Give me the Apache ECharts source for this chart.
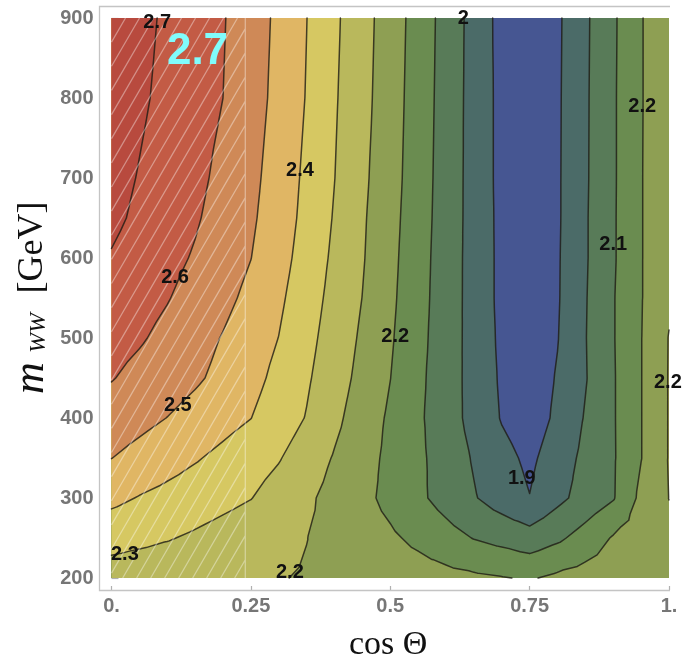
<!DOCTYPE html>
<html>
<head>
<meta charset="utf-8">
<script src="https://cdn.jsdelivr.net/npm/echarts@6/dist/echarts.min.js"></script>
<style>
  html, body { margin: 0; padding: 0; background: #ffffff; }
  #chart { width: 682px; height: 666px; }
</style>
</head>
<body>
<div id="chart"></div>
<script>
// Sampled grid: cos(Theta) columns, m_WW rows (GeV)
const cosTheta = [0, 0.05, 0.1, 0.15, 0.2, 0.25, 0.3, 0.35, 0.4, 0.45, 0.5,
                  0.55, 0.6, 0.65, 0.7, 0.75, 0.8, 0.85, 0.9, 0.95, 1.0];
const mWW = [200, 250, 300, 350, 400, 450, 500, 550, 600, 650, 700, 800, 900];

// Ratio values on the grid, one row per m_WW value (same order as mWW)
const ratio200 = [2.287, 2.280, 2.275, 2.268, 2.262, 2.256, 2.249, 2.241, 2.230, 2.220, 2.210, 2.199, 2.189, 2.178, 2.168, 2.157, 2.180, 2.197, 2.209, 2.217, 2.221];
const ratio250 = [2.359, 2.346, 2.333, 2.317, 2.299, 2.282, 2.264, 2.247, 2.223, 2.200, 2.176, 2.147, 2.112, 2.079, 2.057, 2.034, 2.067, 2.115, 2.171, 2.205, 2.226];
const ratio300 = [2.429, 2.406, 2.387, 2.368, 2.349, 2.330, 2.296, 2.259, 2.221, 2.184, 2.143, 2.098, 2.052, 2.006, 1.962, 1.920, 1.980, 2.030, 2.076, 2.183, 2.247];
const ratio350 = [2.493, 2.467, 2.442, 2.417, 2.390, 2.361, 2.333, 2.288, 2.240, 2.194, 2.146, 2.098, 2.046, 1.993, 1.942, 1.902, 1.958, 2.020, 2.074, 2.162, 2.250];
const ratio400 = [2.537, 2.515, 2.491, 2.465, 2.438, 2.411, 2.369, 2.324, 2.264, 2.207, 2.152, 2.095, 2.036, 1.975, 1.913, 1.877, 1.933, 2.006, 2.075, 2.162, 2.250];
const ratio450 = [2.578, 2.552, 2.528, 2.503, 2.472, 2.434, 2.390, 2.338, 2.281, 2.223, 2.165, 2.100, 2.037, 1.973, 1.907, 1.873, 1.924, 1.995, 2.075, 2.162, 2.250];
const ratio500 = [2.602, 2.582, 2.554, 2.521, 2.488, 2.449, 2.409, 2.351, 2.293, 2.234, 2.173, 2.106, 2.039, 1.972, 1.902, 1.869, 1.915, 1.997, 2.077, 2.162, 2.249];
const ratio550 = [2.626, 2.603, 2.578, 2.546, 2.512, 2.473, 2.424, 2.365, 2.303, 2.245, 2.180, 2.111, 2.041, 1.971, 1.898, 1.869, 1.911, 1.995, 2.077, 2.160, 2.234];
const ratio600 = [2.651, 2.624, 2.596, 2.567, 2.530, 2.493, 2.439, 2.378, 2.313, 2.252, 2.185, 2.115, 2.042, 1.971, 1.898, 1.869, 1.910, 1.992, 2.073, 2.160, 2.230];
const ratio650 = [2.672, 2.642, 2.612, 2.582, 2.545, 2.504, 2.450, 2.388, 2.322, 2.256, 2.190, 2.119, 2.045, 1.971, 1.897, 1.869, 1.908, 1.992, 2.073, 2.160, 2.230];
const ratio700 = [2.682, 2.652, 2.622, 2.592, 2.556, 2.512, 2.457, 2.394, 2.329, 2.262, 2.195, 2.123, 2.046, 1.971, 1.895, 1.869, 1.908, 1.990, 2.072, 2.160, 2.230];
const ratio800 = [2.699, 2.668, 2.637, 2.605, 2.574, 2.525, 2.470, 2.406, 2.336, 2.271, 2.201, 2.127, 2.049, 1.971, 1.895, 1.869, 1.907, 1.989, 2.072, 2.159, 2.230];
const ratio900 = [2.710, 2.677, 2.644, 2.611, 2.579, 2.530, 2.476, 2.411, 2.342, 2.276, 2.206, 2.131, 2.052, 1.972, 1.892, 1.869, 1.905, 1.987, 2.070, 2.159, 2.230];
const ratioRows = [ratio200, ratio250, ratio300, ratio350, ratio400, ratio450,
                   ratio500, ratio550, ratio600, ratio650, ratio700, ratio800, ratio900];

// Contour levels and the fill colour of each band (lowest band first)
const contourLevels = [1.918, 2.0, 2.082, 2.164, 2.246, 2.328, 2.41, 2.492, 2.574, 2.656];
const bandColors = ['#465692', '#4b6b68', '#587b58', '#6a8c50', '#8e9f53', '#b9b85c',
                    '#d6c862', '#e0b664', '#cf8957', '#c35b45', '#b84a3e'];

// Contour labels: position (cos Theta, m_WW) and the level they annotate
const labelCos   = [0.082, 0.114, 0.119, 0.338, 0.024, 0.320, 0.509, 0.631, 0.736, 0.952, 0.900, 0.998];
const labelMass  = [895,   576,   416,   710,   229,   207.5, 502.5, 899,   325,   789,   617.5, 445];
const labelLevel = [9,     8,     7,     6,     5,     4,     3,     1,     0,     3,     2,     4];

// Axis ticks
const xTicks = [0, 0.25, 0.5, 0.75, 1];
const xTickText = ['0.', '0.25', '0.5', '0.75', '1.'];
const yTicks = [200, 300, 400, 500, 600, 700, 800, 900];

// Hatched cos Theta range
const hatchCos = [0, 0.24];
const highlightValue = '2.7';

// ---- triangulate the grid (4 triangles per cell around the centre) ----
function buildTriangles() {
  const tris = [];
  for (let j = 0; j < mWW.length - 1; j++) {
    for (let i = 0; i < cosTheta.length - 1; i++) {
      const a = { x: cosTheta[i],     y: mWW[j],     z: ratioRows[j][i] };
      const b = { x: cosTheta[i + 1], y: mWW[j],     z: ratioRows[j][i + 1] };
      const c = { x: cosTheta[i + 1], y: mWW[j + 1], z: ratioRows[j + 1][i + 1] };
      const d = { x: cosTheta[i],     y: mWW[j + 1], z: ratioRows[j + 1][i] };
      const o = { x: (a.x + b.x) / 2, y: (a.y + d.y) / 2, z: (a.z + b.z + c.z + d.z) / 4 };
      tris.push([a, b, o], [b, c, o], [c, d, o], [d, a, o]);
    }
  }
  return tris;
}
const triangles = buildTriangles();

function lerpPt(p, q, L) {
  const t = (L - p.z) / (q.z - p.z);
  return { x: p.x + t * (q.x - p.x), y: p.y + t * (q.y - p.y), z: L };
}
// part of a triangle where value >= L
function clipAbove(tri, L) {
  const out = [];
  for (let k = 0; k < tri.length; k++) {
    const p = tri[k], q = tri[(k + 1) % tri.length];
    const pin = p.z >= L, qin = q.z >= L;
    if (pin) out.push(p);
    if (pin !== qin) out.push(lerpPt(p, q, L));
  }
  return out;
}
// iso-line segment of a triangle at level L
function isoSegment(tri, L) {
  const pts = [];
  for (let k = 0; k < 3; k++) {
    const p = tri[k], q = tri[(k + 1) % 3];
    if ((p.z >= L) !== (q.z >= L)) pts.push(lerpPt(p, q, L));
  }
  return pts.length === 2 ? pts : null;
}
function fmtLevel(v) { return String(Math.round(v * 10) / 10); }
function px(api, p) { const c = api.coord([p.x, p.y]); return c[0].toFixed(2) + ',' + c[1].toFixed(2); }

const chart = echarts.init(document.getElementById('chart'), null, { renderer: 'canvas' });

const axisFont = 'Liberation Sans, Arial, Helvetica, sans-serif';
const serifFont = 'Liberation Serif, Times New Roman, serif';

const option = {
  animation: false,
  backgroundColor: '#ffffff',
  grid: { left: 111.5, top: 18, width: 557.5, height: 560, containLabel: false },
  xAxis: {
    type: 'value', min: 0, max: 1, interval: 0.25, offset: 12,
    axisLine: { show: false },
    axisTick: { show: true, inside: true, length: 4, lineStyle: { color: '#b0b0b0', width: 1.2 } },
    axisLabel: {
      margin: 6, color: '#767676', fontSize: 20, fontWeight: 'bold', fontFamily: axisFont,
      formatter: v => { const i = xTicks.findIndex(t => Math.abs(t - v) < 1e-9); return i >= 0 ? xTickText[i] : ''; }
    },
    splitLine: { show: false }
  },
  yAxis: {
    type: 'value', min: yTicks[0], max: yTicks[yTicks.length - 1], interval: 100, offset: 12,
    axisLine: { show: false },
    axisTick: { show: true, inside: true, length: 7, lineStyle: { color: '#b0b0b0', width: 1.2 } },
    axisLabel: { margin: 6, color: '#767676', fontSize: 20, fontWeight: 'bold', fontFamily: axisFont },
    splitLine: { show: false }
  },
  graphic: [
    { type: 'polyline', z: 10, silent: true,
      shape: { points: [[670, 6.5], [99.5, 6.5], [99.5, 590.5], [670, 590.5]] },
      style: { stroke: '#c4c4c4', lineWidth: 1.3, fill: null } },
    { type: 'text', z: 10, x: 349, y: 645.5,
      style: { text: 'cos Θ', font: '34px ' + serifFont, fill: '#111', textAlign: 'left', textVerticalAlign: 'middle' } },
    { type: 'text', z: 10, x: 31, y: 378, rotation: Math.PI / 2,
      style: { text: 'm', font: 'italic 44px ' + serifFont, fill: '#111', textAlign: 'center', textVerticalAlign: 'middle' } },
    { type: 'text', z: 10, x: 39, y: 333, rotation: Math.PI / 2,
      style: { text: 'WW', font: 'italic 24px ' + serifFont, fill: '#111', textAlign: 'center', textVerticalAlign: 'middle' } },
    { type: 'text', z: 10, x: 33, y: 247.5, rotation: Math.PI / 2,
      style: { text: '[GeV]', font: '36px ' + serifFont, fill: '#111', textAlign: 'center', textVerticalAlign: 'middle' } },
    { type: 'text', z: 20, x: 197.5, y: 52,
      style: { text: highlightValue, font: 'bold 44px ' + axisFont, fill: '#80fcfc', textAlign: 'center', textVerticalAlign: 'middle' } }
  ],
  series: [
    // filled bands: region above each level, stacked from low to high
    {
      type: 'custom', silent: true, z: 1,
      data: bandColors.map((c, i) => [i]),
      renderItem: (params, api) => {
        const k = params.dataIndex;
        let d = '';
        for (const tri of triangles) {
          const poly = k === 0 ? tri : clipAbove(tri, contourLevels[k - 1]);
          if (poly.length < 3) continue;
          d += 'M' + poly.map(p => px(api, p)).join('L') + 'Z';
        }
        return { type: 'path', shape: { pathData: d }, style: { fill: bandColors[k], stroke: null } };
      }
    },
    // contour lines
    {
      type: 'custom', silent: true, z: 2,
      data: contourLevels.map((v, i) => [i]),
      renderItem: (params, api) => {
        const L = contourLevels[params.dataIndex];
        let d = '';
        for (const tri of triangles) {
          const seg = isoSegment(tri, L);
          if (seg) d += 'M' + px(api, seg[0]) + 'L' + px(api, seg[1]);
        }
        return { type: 'path', shape: { pathData: d },
                 style: { fill: null, stroke: 'rgba(30,28,20,0.8)', lineWidth: 1.5, lineCap: 'round', lineJoin: 'round' } };
      }
    },
    // hatched band
    {
      type: 'custom', silent: true, z: 3,
      data: [[0]],
      renderItem: (params, api) => {
        const p0 = api.coord([hatchCos[0], mWW[mWW.length - 1]]);
        const p1 = api.coord([hatchCos[1], mWW[0]]);
        const xL = p0[0], yT = p0[1], xR = p1[0], yB = p1[1];
        const slope = 0.58, step = 14;
        const H = yB - yT;
        let d = '';
        for (let s = xL - H * slope; s < xR; s += step) {
          // x(y) = s + slope * (yB - y)
          const yAtL = yB - (xL - s) / slope;
          const yAtR = yB - (xR - s) / slope;
          const y0 = Math.min(yB, yAtL), y1 = Math.max(yT, yAtR);
          if (y0 <= y1) continue;
          const x0 = s + slope * (yB - y0), x1 = s + slope * (yB - y1);
          d += 'M' + x0.toFixed(2) + ',' + y0.toFixed(2) + 'L' + x1.toFixed(2) + ',' + y1.toFixed(2);
        }
        d += 'M' + xR.toFixed(2) + ',' + yT.toFixed(2) + 'L' + xR.toFixed(2) + ',' + yB.toFixed(2);
        return { type: 'path', shape: { pathData: d },
                 style: { fill: null, stroke: 'rgba(255,255,255,0.38)', lineWidth: 1.3 } };
      }
    },
    // contour labels
    {
      type: 'custom', silent: true, z: 4,
      data: labelCos.map((c, i) => [c, labelMass[i], labelLevel[i]]),
      renderItem: (params, api) => {
        const c = api.coord([api.value(0), api.value(1)]);
        return { type: 'text', x: c[0], y: c[1],
                 style: { text: fmtLevel(contourLevels[api.value(2)]), font: 'bold 20px ' + axisFont,
                          fill: '#111', textAlign: 'center', textVerticalAlign: 'middle' } };
      }
    }
  ]
};
chart.setOption(option);
</script>
</body>
</html>
